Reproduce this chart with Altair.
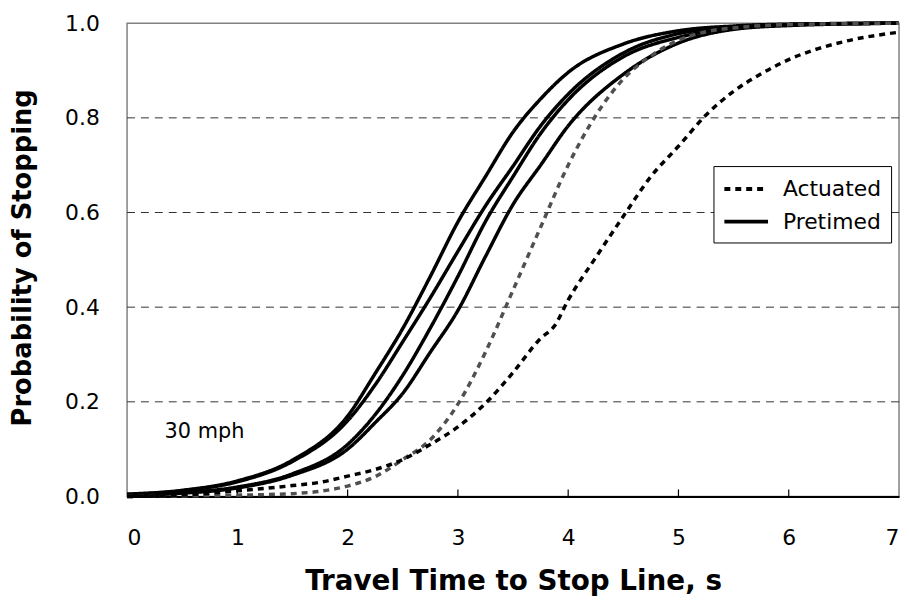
import altair as alt
import pandas as pd

# ---- data ----
solid_x = [0, 0.5, 1, 1.5, 2, 2.25, 2.5, 2.75, 3, 3.25, 3.5, 3.75, 4, 4.5, 5, 5.5, 6, 7]
pre_a = [0.005, 0.013, 0.033, 0.077, 0.17, 0.26, 0.355, 0.465, 0.58, 0.676, 0.77, 0.84, 0.896, 0.956, 0.984, 0.994, 0.998, 1.0]
pre_b = [0.004, 0.012, 0.031, 0.074, 0.16, 0.236, 0.327, 0.42, 0.518, 0.614, 0.698, 0.783, 0.85, 0.937, 0.978, 0.992, 0.997, 1.0]
pre_c = [0.003, 0.008, 0.02, 0.048, 0.11, 0.173, 0.256, 0.356, 0.465, 0.581, 0.676, 0.767, 0.838, 0.929, 0.97, 0.99, 0.997, 1.0]
pre_d = [0.003, 0.007, 0.018, 0.045, 0.10, 0.156, 0.218, 0.305, 0.393, 0.507, 0.617, 0.70, 0.783, 0.892, 0.958, 0.987, 0.995, 1.0]

act_e_x = [0, 0.75, 1.25, 1.5, 1.75, 2.0, 2.25, 2.5, 2.75, 3.0, 3.25, 3.5, 3.75, 4.0, 4.25, 4.5, 4.75, 5.0, 5.25, 5.5, 6.0, 7.0]
act_e_y = [0.0, 0.002, 0.004, 0.006, 0.011, 0.022, 0.042, 0.078, 0.12, 0.195, 0.305, 0.436, 0.569, 0.70, 0.805, 0.882, 0.931, 0.964, 0.982, 0.99, 0.997, 1.0]

act_f_x = [0, 0.5, 1.0, 1.25, 1.5, 1.75, 2.0, 2.25, 2.5, 2.75, 3.0, 3.25, 3.5, 3.75, 3.875, 4.0, 4.25, 4.5, 4.75, 5.0, 5.25, 5.5, 5.75, 6.0, 6.5, 7.0]
act_f_y = [0.0, 0.003, 0.012, 0.017, 0.023, 0.03, 0.043, 0.057, 0.078, 0.11, 0.147, 0.197, 0.262, 0.334, 0.36, 0.415, 0.505, 0.592, 0.676, 0.74, 0.806, 0.856, 0.893, 0.923, 0.961, 0.981]

x_ticks = [0, 1, 2, 3, 4, 5, 6, 7]
inner_ticks = [1, 2, 3, 4, 5, 6]
y_ticks = [0.0, 0.2, 0.4, 0.6, 0.8, 1.0]
grid_vals = [0.2, 0.4, 0.6, 0.8]
note_text = "30 mph"
note_x, note_y = 0.34, 0.136
x_title = "Travel Time to Stop Line, s"
y_title = "Probability of Stopping"

# ---- build tables ----
rows = []
for name, ys in [("A", pre_a), ("B", pre_b), ("C", pre_c), ("D", pre_d)]:
    for xv, yv in zip(solid_x, ys):
        rows.append({"series": name, "type": "Pretimed", "col": "#000000", "t": xv, "p": yv})
for name, xs, ys, c in [("E", act_e_x, act_e_y, "#505050"), ("F", act_f_x, act_f_y, "#000000")]:
    for xv, yv in zip(xs, ys):
        rows.append({"series": name, "type": "Actuated", "col": c, "t": xv, "p": yv})
df = pd.DataFrame(rows)

FONT = "DejaVu Sans"
xscale = alt.Scale(domain=[0, 7], nice=False, zero=False)
yscale = alt.Scale(domain=[0, 1], nice=False)

grid = alt.Chart(pd.DataFrame({"g": grid_vals})).mark_rule(
    color="#333333", strokeWidth=1, strokeDash=[8, 6]
).encode(y=alt.Y("g:Q", scale=yscale))

ticks = alt.Chart(pd.DataFrame({"k": inner_ticks})).mark_rule(
    color="#000000", strokeWidth=1.2
).encode(
    x=alt.X("k:Q", scale=xscale),
    y=alt.datum(0, scale=yscale),
    y2=alt.datum(0.015),
)

lines = alt.Chart(df).mark_line(interpolate="monotone", strokeWidth=3.5, strokeCap="butt").encode(
    x=alt.X("t:Q", scale=xscale,
            axis=alt.Axis(values=x_ticks, format="d", title=x_title, ticks=False, grid=False,
                          labelFontSize=22, labelFont=FONT, labelPadding=31, labelColor="#000",
                          domainColor="#000", domainWidth=2,
                          titleFont=FONT, titleFontSize=28, titleFontWeight="bold",
                          titleBaseline="alphabetic", titleY=94, titleColor="#000")),
    y=alt.Y("p:Q", scale=yscale,
            axis=alt.Axis(values=y_ticks, format=".1f", title=y_title, ticks=False, grid=False,
                          labelFontSize=22, labelFont=FONT, labelPadding=28, labelColor="#000",
                          domain=False,
                          titleFont=FONT, titleFontSize=26, titleFontWeight="bold",
                          titleBaseline="middle", titleX=-105, titleY=236, titleColor="#000")),
    detail="series:N",
    color=alt.Color("col:N", scale=None),
    strokeDash=alt.StrokeDash(
        "type:N",
        scale=alt.Scale(domain=["Actuated", "Pretimed"], range=[[6, 5], [1, 0]]),
        legend=alt.Legend(title=None, orient="none", legendX=591, legendY=144,
                          fillColor="white", strokeColor="#000", padding=10,
                          labelFont=FONT, labelFontSize=22, labelColor="#000",
                          symbolType="M-2,0H2", symbolSize=484, symbolStrokeWidth=4,
                          symbolStrokeColor="#000", symbolOffset=10, labelOffset=24,
                          rowPadding=9),
    ),
)

note = alt.Chart(pd.DataFrame({"t": [note_x], "p": [note_y], "s": [note_text]})).mark_text(
    align="left", baseline="middle", font=FONT, fontSize=21, color="#000"
).encode(x=alt.X("t:Q", scale=xscale), y=alt.Y("p:Q", scale=yscale), text="s:N")

chart = alt.layer(grid, ticks, lines, note).properties(
    width=778, height=477,
    autosize=alt.AutoSizeParams(type="none"),
    padding={"left": 120, "top": 13, "right": 2, "bottom": 100},
).configure_view(stroke="#808080", strokeWidth=1.5)

chart.save("out.html", embed_options={"renderer": "svg", "actions": False})
